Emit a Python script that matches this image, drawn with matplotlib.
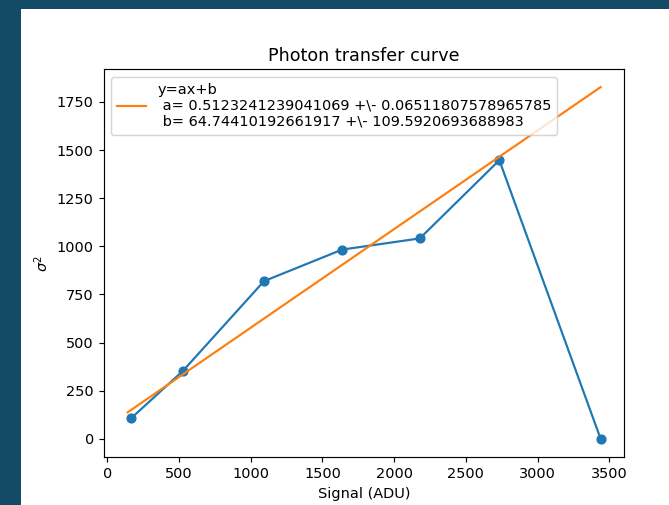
import matplotlib
matplotlib.use("Agg")
import matplotlib.pyplot as plt
from matplotlib.patches import Rectangle

# Data
signal = [167, 528, 1093, 1638, 2179, 2733, 3439]
variance = [107, 353, 819, 983, 1041, 1447, 0]

# Fit results (as printed in the legend)
a, a_err = 0.5123241239041069, 0.06511807578965785
b, b_err = 64.74410192661917, 109.5920693688983
fit_x = [143, 3439]

# Prepare Figure
dpi = 104.8
fig = plt.figure(figsize=(669 / dpi, 505 / dpi), dpi=dpi)
fig.patch.set_facecolor("#134a66")
fig.add_artist(Rectangle((21 / 669, 0), 1, (505 - 9) / 505,
                         transform=fig.transFigure, facecolor="white",
                         edgecolor="none", zorder=-10))
ax = fig.add_axes([104 / 669, (505 - 456.5) / 505, 520.3 / 669, 387 / 505])

# Plots
ax.plot(signal, variance, "o-")
fit_y = [a * x + b for x in fit_x]
ax.plot(fit_x, fit_y,
        label=f"y=ax+b\n a= {a} +\\- {a_err}\n b= {b} +\\- {b_err}")

ax.set_title("Photon transfer curve")
ax.set_xlabel("Signal (ADU)")
ax.set_ylabel(r"$\sigma^2$")
ax.legend(loc="upper left")

# Save Figure
fig.savefig("out.png", dpi=dpi)
